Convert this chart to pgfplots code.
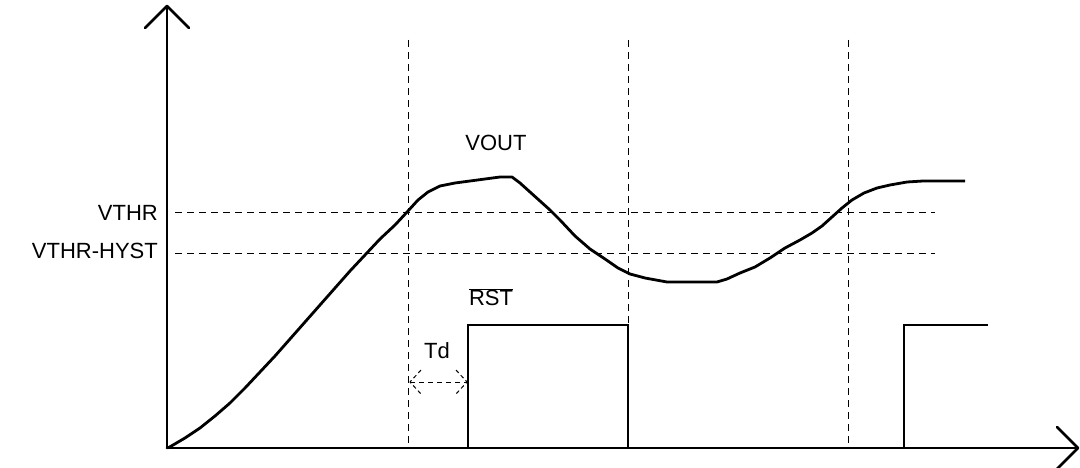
\documentclass[border=0pt]{standalone}
\usepackage{pgfplots}
\pgfplotsset{compat=1.18}
\usepackage{fontspec}
\setmainfont{Liberation Sans}
\begin{document}
\begin{tikzpicture}
\begin{axis}[scale only axis, width=1080pt, height=468pt,
  xmin=0, xmax=1080, ymin=0, ymax=468, y dir=reverse,
  hide axis, clip=false]
\coordinate (bl) at (axis cs:0,468);
\coordinate (tr) at (axis cs:1080,0);
% dashed guides
\addplot[black, line width=1pt, dash pattern=on 7pt off 5pt] coordinates {(408,40)(408,448)};
\addplot[black, line width=1pt, dash pattern=on 7pt off 5pt] coordinates {(628,40)(628,448)};
\addplot[black, line width=1pt, dash pattern=on 7pt off 5pt] coordinates {(848,40)(848,448)};
\addplot[black, line width=1pt, dash pattern=on 7pt off 5pt] coordinates {(175,213)(935,213)};
\addplot[black, line width=1pt, dash pattern=on 7pt off 5pt] coordinates {(175,253)(935,253)};
% Td arrow
\addplot[black, line width=1pt, dash pattern=on 5pt off 4pt] coordinates {(410,382)(467,382)};
\addplot[black, line width=1pt, dash pattern=on 4pt off 3pt] coordinates {(421,370)(410,382)(421,394)};
\addplot[black, line width=1pt, dash pattern=on 4pt off 3pt] coordinates {(456,370)(467,382)(456,394)};
% axes
\addplot[black, line width=2.8pt, line cap=round, line join=round] coordinates {(167,448)(167,6)};
\addplot[black, line width=2.8pt, line cap=round, line join=round] coordinates {(145,28)(167,6)(189,28)};
\addplot[black, line width=2.8pt, line cap=round, line join=round] coordinates {(167,448)(1078,448)};
\addplot[black, line width=2.8pt, line cap=round, line join=round] coordinates {(1057,427)(1078,448)(1057,469)};
% RST
\addplot[black, line width=2.8pt, line join=miter] coordinates {(468,448)(468,325)(628,325)(628,448)};
\addplot[black, line width=2.8pt, line join=miter] coordinates {(904,448)(904,325)(988,325)};
% VOUT
\addplot[black, line width=2.8pt, line join=round] coordinates {
(168,448)(185,438)(200,428)(215,416)(230,403)(245,388)(260,372)(275,356)(290,339)(305,322)(320,305)(335,288)(350,271)(365,255)(380,239)(395,225)(408,211)(418,200)(428,192)(440,186)(455,183)(470,181)(485,179)(500,177)(512,177)(520,183)(530,192)(540,201)(550,210)(560,220)(575,236)(590,249)(605,259)(618,268)(630,274)(645,278)(667,282)(717,282)(727,279)(740,273)(755,267)(770,258)(785,248)(800,240)(812,233)(822,226)(832,217)(842,208)(852,200)(864,193)(877,188)(890,185)(907,182)(923,181)(965,181)};
% labels
\node[anchor=east, inner sep=0pt, font=\fontsize{22}{24}\selectfont] at (axis cs:158,213) {VTHR};
\node[anchor=east, inner sep=0pt, font=\fontsize{22}{24}\selectfont] at (axis cs:158,251) {VTHR-HYST};
\node[anchor=center, inner sep=0pt, font=\fontsize{22}{24}\selectfont] at (axis cs:496,143) {VOUT};
\node[anchor=center, inner sep=0pt, font=\fontsize{22}{24}\selectfont] at (axis cs:491,297) {$\overline{\mbox{RST}}$};
\node[anchor=center, inner sep=0pt, font=\fontsize{22}{24}\selectfont] at (axis cs:437,351) {Td};
\end{axis}
\pgfresetboundingbox
\path (bl) rectangle (tr);
\end{tikzpicture}
\end{document}
